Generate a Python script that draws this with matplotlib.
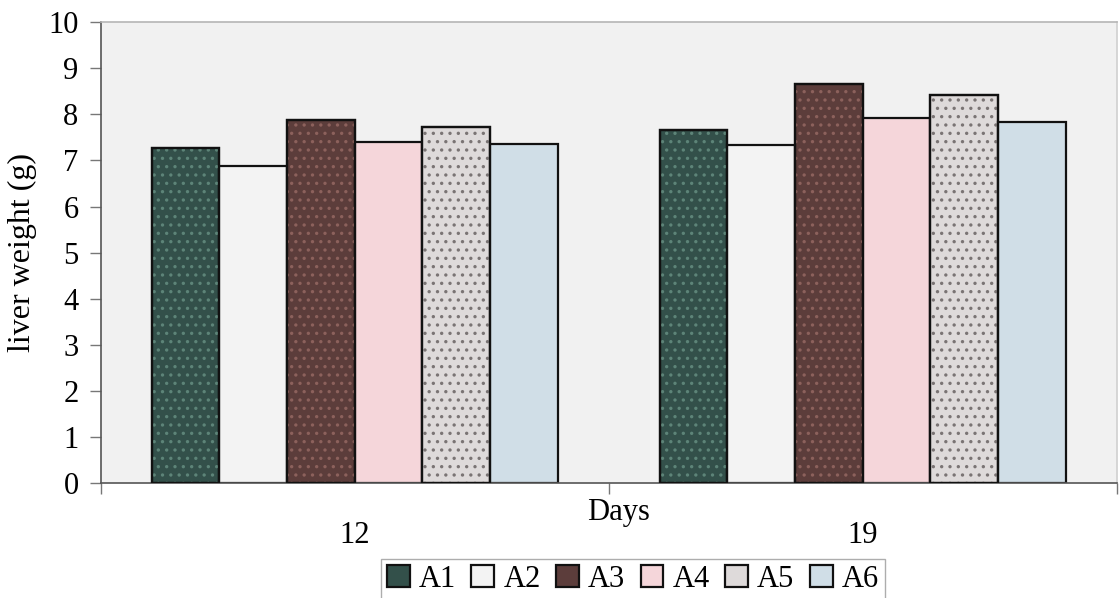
import matplotlib
matplotlib.use("Agg")
import matplotlib.pyplot as plt
import numpy as np

days = ["12", "19"]
groups = ["A1", "A2", "A3", "A4", "A5", "A6"]
liver_weight = {
    "A1": [7.28, 7.67],
    "A2": [6.87, 7.33],
    "A3": [7.87, 8.66],
    "A4": [7.40, 7.93],
    "A5": [7.72, 8.42],
    "A6": [7.36, 7.83],
}

fill_colors = ["#33504a", "#f3f3f3", "#5c3d3b", "#f5d6da", "#dedada", "#d0dee7"]
hatch_colors = ["#5d8478", "#e4e4e4", "#8c615c", "#f5d6da", "#7a7474", "#b9cbd6"]
hatches = ["..", None, "..", None, "..", None]

plt.rcParams["font.family"] = ["Liberation Serif", "DejaVu Serif"]
plt.rcParams["hatch.linewidth"] = 1.2

fig = plt.figure(figsize=(11.2, 5.98), dpi=100)
ax = fig.add_axes([0.090, 0.192, 0.907, 0.771])
ax.set_facecolor("#f1f1f1")

x = np.arange(len(days))
width = 0.8 / len(groups)
handles = []
for i, g in enumerate(groups):
    pos = x - 0.4 + width * (i + 0.5)
    bars = ax.bar(pos, liver_weight[g], width, color=fill_colors[i],
                  edgecolor="#111111", linewidth=1.6, zorder=2)
    if hatches[i]:
        ax.bar(pos, liver_weight[g], width, color="none",
               edgecolor=hatch_colors[i], linewidth=0, hatch=hatches[i], zorder=3)
        ax.bar(pos, liver_weight[g], width, color="none",
               edgecolor="#111111", linewidth=1.6, zorder=4)
    handles.append(bars)

ax.set_ylim(0, 10)
ax.set_xlim(-0.5, len(days) - 0.5)
ax.set_yticks(np.arange(0, 11, 1))
ax.tick_params(axis="y", direction="out", length=8, width=1, color="#777777",
               labelsize=22, pad=8)

# boundaries get the tick marks, the day labels sit in between
ax.set_xticks(np.arange(-0.5, len(days), 1.0))
ax.set_xticklabels([])
ax.tick_params(axis="x", which="major", direction="out", length=8, width=1, color="#777777")
ax.set_xticks(x, minor=True)
ax.set_xticklabels(days, minor=True)
ax.tick_params(axis="x", which="minor", length=0, labelsize=22, pad=27)

ax.set_ylabel("liver weight (g)", fontsize=23)
ax.yaxis.set_label_coords(-0.063, 0.5)
ax.text(0.51, -0.063, "Days", transform=ax.transAxes, ha="center", va="center",
        fontsize=22)

ax.spines["left"].set_color("#555555")
ax.spines["bottom"].set_color("#555555")
ax.spines["top"].set_color("#b5b5b5")
ax.spines["right"].set_color("#d0d0d0")
for s in ax.spines.values():
    s.set_linewidth(1.2)

leg = fig.legend(handles, groups, loc="upper center", bbox_to_anchor=(0.565, 0.066),
                 ncol=6, fontsize=22, frameon=True, fancybox=False,
                 handlelength=0.75, handleheight=0.75, handletextpad=0.3,
                 columnspacing=0.5, borderpad=0.2, borderaxespad=0)
leg.get_frame().set_edgecolor("#999999")
leg.get_frame().set_linewidth(1.0)

fig.savefig("out.png", dpi=100)
